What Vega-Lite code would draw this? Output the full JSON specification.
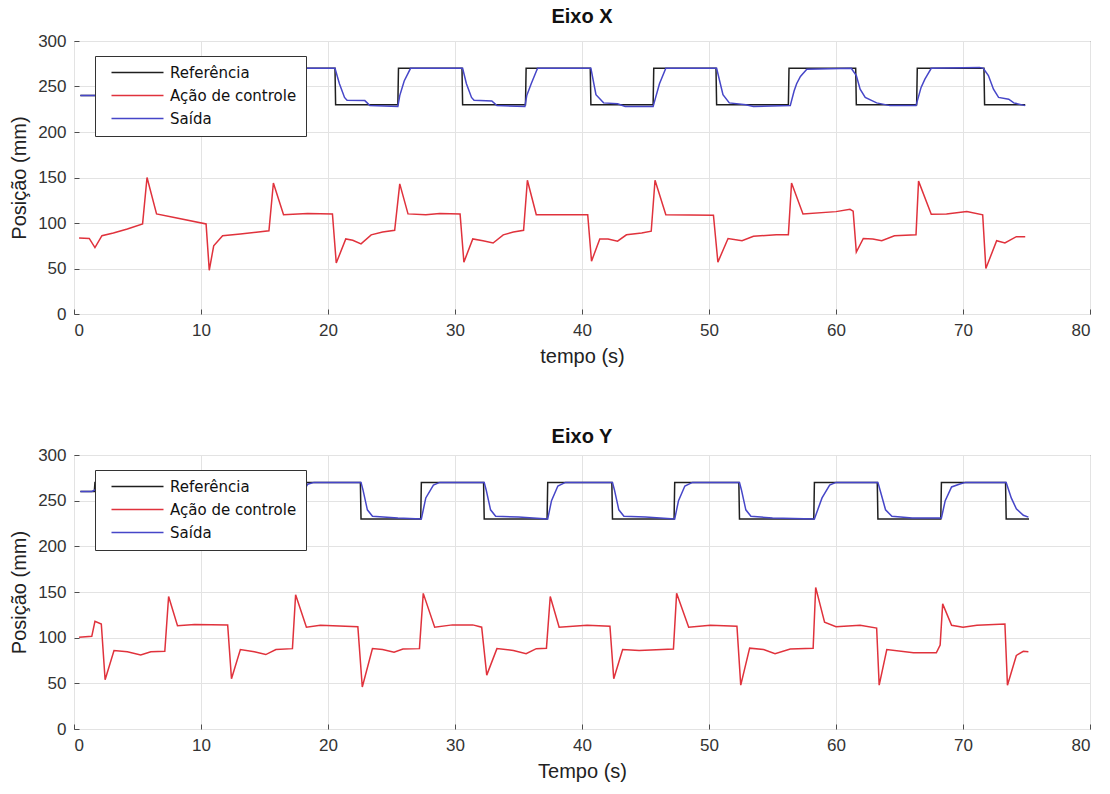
{
 "$schema": "https://vega.github.io/schema/vega-lite/v6.json",
 "padding": {"left": 9, "top": 6, "right": 4, "bottom": 2},
 "background": "white",
 "spacing": 59,
 "resolve": {"scale": {"color": "independent"}, "legend": {"color": "independent"}},
 "config": {
  "font": "Liberation Sans",
  "view": {"stroke": "#4d4d4d", "strokeWidth": 1},
  "axis": {"grid": true, "gridColor": "#e3e3e3", "domain": false, "ticks": true, "tickSize": -5, "tickColor": "#4d4d4d", "labelFontSize": 17, "labelColor": "#333333", "titleFontSize": 20, "titleFontWeight": "normal", "titleColor": "#222222", "labelPadding": 13, "titlePadding": 8},
  "title": {"fontSize": 20, "fontWeight": "bold", "color": "#111111", "offset": 5},
  "legend": {"orient": "none", "legendX": 21, "legendY": 15, "strokeColor": "#333333", "fillColor": "white", "padding": 9, "symbolType": "M0,0H10.4", "symbolSize": 100, "symbolStrokeWidth": 1.5, "labelFont": "DejaVu Sans", "labelFontSize": 15, "labelOffset": 51, "rowPadding": 7, "labelColor": "#111111"}
 },
 "datasets": {
  "ex": [
   {"s":"Referência","t":0.5,"v":240},{"s":"Referência","t":5.6,"v":240},{"s":"Referência","t":5.65,"v":270},{"s":"Referência","t":10.55,"v":270},{"s":"Referência","t":10.6,"v":230},{"s":"Referência","t":15.55,"v":230},{"s":"Referência","t":15.6,"v":270},{"s":"Referência","t":20.55,"v":270},{"s":"Referência","t":20.6,"v":230},{"s":"Referência","t":25.5,"v":230},{"s":"Referência","t":25.55,"v":270},{"s":"Referência","t":30.55,"v":270},{"s":"Referência","t":30.6,"v":230},{"s":"Referência","t":35.55,"v":230},{"s":"Referência","t":35.6,"v":270},{"s":"Referência","t":40.65,"v":270},{"s":"Referência","t":40.7,"v":230},{"s":"Referência","t":45.6,"v":230},{"s":"Referência","t":45.65,"v":270},{"s":"Referência","t":50.55,"v":270},{"s":"Referência","t":50.6,"v":230},{"s":"Referência","t":56.25,"v":230},{"s":"Referência","t":56.3,"v":270},{"s":"Referência","t":61.55,"v":270},{"s":"Referência","t":61.6,"v":230},{"s":"Referência","t":66.35,"v":230},{"s":"Referência","t":66.4,"v":270},{"s":"Referência","t":71.65,"v":270},{"s":"Referência","t":71.7,"v":230},{"s":"Referência","t":74.9,"v":230},
   {"s":"Ação de controle","t":0.4,"v":83.5},{"s":"Ação de controle","t":1.2,"v":83},{"s":"Ação de controle","t":1.65,"v":73},{"s":"Ação de controle","t":2.2,"v":86},{"s":"Ação de controle","t":3.1,"v":89},{"s":"Ação de controle","t":4.2,"v":93.5},{"s":"Ação de controle","t":5.4,"v":99},{"s":"Ação de controle","t":5.75,"v":150},{"s":"Ação de controle","t":6.5,"v":110},{"s":"Ação de controle","t":7.9,"v":106},{"s":"Ação de controle","t":10.4,"v":99},{"s":"Ação de controle","t":10.65,"v":48},{"s":"Ação de controle","t":11.0,"v":75},{"s":"Ação de controle","t":11.7,"v":86},{"s":"Ação de controle","t":13.1,"v":88},{"s":"Ação de controle","t":15.35,"v":91.5},{"s":"Ação de controle","t":15.7,"v":144},{"s":"Ação de controle","t":16.5,"v":109},{"s":"Ação de controle","t":18.4,"v":110.5},{"s":"Ação de controle","t":20.35,"v":110},{"s":"Ação de controle","t":20.65,"v":56},{"s":"Ação de controle","t":21.4,"v":82.5},{"s":"Ação de controle","t":21.95,"v":81},{"s":"Ação de controle","t":22.6,"v":77},{"s":"Ação de controle","t":23.4,"v":87},{"s":"Ação de controle","t":24.3,"v":90},{"s":"Ação de controle","t":25.25,"v":92},{"s":"Ação de controle","t":25.65,"v":143},{"s":"Ação de controle","t":26.3,"v":110},{"s":"Ação de controle","t":27.7,"v":109},{"s":"Ação de controle","t":28.8,"v":110.5},{"s":"Ação de controle","t":30.4,"v":110},{"s":"Ação de controle","t":30.7,"v":57},{"s":"Ação de controle","t":31.4,"v":82.5},{"s":"Ação de controle","t":32.2,"v":80.5},{"s":"Ação de controle","t":33.0,"v":78},{"s":"Ação de controle","t":33.8,"v":87},{"s":"Ação de controle","t":34.6,"v":90},{"s":"Ação de controle","t":35.4,"v":92},{"s":"Ação de controle","t":35.7,"v":147},{"s":"Ação de controle","t":36.4,"v":109},{"s":"Ação de controle","t":40.45,"v":109},{"s":"Ação de controle","t":40.75,"v":58},{"s":"Ação de controle","t":41.4,"v":82.5},{"s":"Ação de controle","t":42.05,"v":82.5},{"s":"Ação de controle","t":42.8,"v":80},{"s":"Ação de controle","t":43.5,"v":87},{"s":"Ação de controle","t":44.7,"v":89},{"s":"Ação de controle","t":45.45,"v":91},{"s":"Ação de controle","t":45.75,"v":147},{"s":"Ação de controle","t":46.6,"v":109},{"s":"Ação de controle","t":50.35,"v":108.5},{"s":"Ação de controle","t":50.7,"v":57},{"s":"Ação de controle","t":51.5,"v":83},{"s":"Ação de controle","t":52.6,"v":80.5},{"s":"Ação de controle","t":53.5,"v":85.5},{"s":"Ação de controle","t":55.3,"v":87},{"s":"Ação de controle","t":56.25,"v":87},{"s":"Ação de controle","t":56.5,"v":144},{"s":"Ação de controle","t":57.4,"v":110},{"s":"Ação de controle","t":60.0,"v":112.5},{"s":"Ação de controle","t":61.1,"v":115},{"s":"Ação de controle","t":61.35,"v":113},{"s":"Ação de controle","t":61.6,"v":68},{"s":"Ação de controle","t":62.15,"v":83},{"s":"Ação de controle","t":62.9,"v":82.5},{"s":"Ação de controle","t":63.6,"v":80.5},{"s":"Ação de controle","t":64.6,"v":86},{"s":"Ação de controle","t":66.3,"v":87},{"s":"Ação de controle","t":66.5,"v":146},{"s":"Ação de controle","t":67.5,"v":109.5},{"s":"Ação de controle","t":68.7,"v":110},{"s":"Ação de controle","t":70.3,"v":112.5},{"s":"Ação de controle","t":71.55,"v":109},{"s":"Ação de controle","t":71.8,"v":50},{"s":"Ação de controle","t":72.65,"v":80.5},{"s":"Ação de controle","t":73.3,"v":78},{"s":"Ação de controle","t":74.2,"v":85},{"s":"Ação de controle","t":74.9,"v":85},
   {"s":"Saída","t":0.5,"v":240},{"s":"Saída","t":1.6,"v":240},{"s":"Saída","t":5.65,"v":240},{"s":"Saída","t":6.0,"v":255},{"s":"Saída","t":6.6,"v":270},{"s":"Saída","t":10.6,"v":270},{"s":"Saída","t":11.0,"v":250},{"s":"Saída","t":11.5,"v":236},{"s":"Saída","t":15.6,"v":230},{"s":"Saída","t":16.0,"v":250},{"s":"Saída","t":16.6,"v":270},{"s":"Saída","t":20.55,"v":270},{"s":"Saída","t":20.9,"v":253},{"s":"Saída","t":21.3,"v":238},{"s":"Saída","t":21.5,"v":235},{"s":"Saída","t":22.9,"v":234.5},{"s":"Saída","t":23.3,"v":229},{"s":"Saída","t":25.5,"v":228},{"s":"Saída","t":25.65,"v":240},{"s":"Saída","t":26.0,"v":256},{"s":"Saída","t":26.5,"v":270},{"s":"Saída","t":30.6,"v":270},{"s":"Saída","t":30.9,"v":253},{"s":"Saída","t":31.3,"v":238},{"s":"Saída","t":31.5,"v":235},{"s":"Saída","t":32.9,"v":234},{"s":"Saída","t":33.3,"v":229},{"s":"Saída","t":35.5,"v":228},{"s":"Saída","t":35.65,"v":240},{"s":"Saída","t":36.0,"v":253},{"s":"Saída","t":36.5,"v":270},{"s":"Saída","t":40.7,"v":270},{"s":"Saída","t":41.1,"v":241},{"s":"Saída","t":41.7,"v":232},{"s":"Saída","t":42.8,"v":231},{"s":"Saída","t":43.4,"v":228},{"s":"Saída","t":45.6,"v":228},{"s":"Saída","t":45.8,"v":238},{"s":"Saída","t":46.1,"v":253},{"s":"Saída","t":46.6,"v":270},{"s":"Saída","t":50.6,"v":270},{"s":"Saída","t":51.1,"v":241},{"s":"Saída","t":51.6,"v":232},{"s":"Saída","t":52.9,"v":230},{"s":"Saída","t":53.5,"v":228},{"s":"Saída","t":56.4,"v":229},{"s":"Saída","t":56.7,"v":245},{"s":"Saída","t":56.9,"v":253},{"s":"Saída","t":57.2,"v":261},{"s":"Saída","t":57.7,"v":269},{"s":"Saída","t":61.2,"v":270},{"s":"Saída","t":61.6,"v":262},{"s":"Saída","t":61.9,"v":247},{"s":"Saída","t":62.3,"v":238},{"s":"Saída","t":63.2,"v":232},{"s":"Saída","t":64.25,"v":229},{"s":"Saída","t":66.3,"v":229},{"s":"Saída","t":66.7,"v":249},{"s":"Saída","t":67.0,"v":258},{"s":"Saída","t":67.5,"v":270},{"s":"Saída","t":71.3,"v":271},{"s":"Saída","t":71.6,"v":270},{"s":"Saída","t":72.0,"v":262},{"s":"Saída","t":72.4,"v":247},{"s":"Saída","t":72.8,"v":238},{"s":"Saída","t":73.6,"v":236},{"s":"Saída","t":74.0,"v":232},{"s":"Saída","t":74.9,"v":229}
  ],
  "ey": [
   {"s":"Referência","t":0.5,"v":260},{"s":"Referência","t":1.6,"v":260},{"s":"Referência","t":1.65,"v":270},{"s":"Referência","t":2.4,"v":270},{"s":"Referência","t":2.45,"v":230},{"s":"Referência","t":7.35,"v":230},{"s":"Referência","t":7.4,"v":270},{"s":"Referência","t":12.35,"v":270},{"s":"Referência","t":12.4,"v":230},{"s":"Referência","t":17.35,"v":230},{"s":"Referência","t":17.4,"v":270},{"s":"Referência","t":22.55,"v":270},{"s":"Referência","t":22.6,"v":230},{"s":"Referência","t":27.3,"v":230},{"s":"Referência","t":27.35,"v":270},{"s":"Referência","t":32.25,"v":270},{"s":"Referência","t":32.3,"v":230},{"s":"Referência","t":37.25,"v":230},{"s":"Referência","t":37.3,"v":270},{"s":"Referência","t":42.35,"v":270},{"s":"Referência","t":42.4,"v":230},{"s":"Referência","t":47.25,"v":230},{"s":"Referência","t":47.3,"v":270},{"s":"Referência","t":52.35,"v":270},{"s":"Referência","t":52.4,"v":230},{"s":"Referência","t":58.25,"v":230},{"s":"Referência","t":58.3,"v":270},{"s":"Referência","t":63.25,"v":270},{"s":"Referência","t":63.3,"v":230},{"s":"Referência","t":68.25,"v":230},{"s":"Referência","t":68.3,"v":270},{"s":"Referência","t":73.35,"v":270},{"s":"Referência","t":73.4,"v":230},{"s":"Referência","t":75.2,"v":230},
   {"s":"Ação de controle","t":0.4,"v":100.5},{"s":"Ação de controle","t":1.4,"v":101.5},{"s":"Ação de controle","t":1.65,"v":118},{"s":"Ação de controle","t":2.15,"v":115},{"s":"Ação de controle","t":2.45,"v":54},{"s":"Ação de controle","t":3.15,"v":86},{"s":"Ação de controle","t":4.2,"v":84.5},{"s":"Ação de controle","t":5.25,"v":81},{"s":"Ação de controle","t":6.05,"v":84.5},{"s":"Ação de controle","t":7.15,"v":85},{"s":"Ação de controle","t":7.45,"v":145},{"s":"Ação de controle","t":8.15,"v":113},{"s":"Ação de controle","t":9.5,"v":114.5},{"s":"Ação de controle","t":12.1,"v":114},{"s":"Ação de controle","t":12.4,"v":55},{"s":"Ação de controle","t":13.1,"v":87},{"s":"Ação de controle","t":14.2,"v":84.5},{"s":"Ação de controle","t":15.1,"v":81.5},{"s":"Ação de controle","t":15.9,"v":87},{"s":"Ação de controle","t":17.2,"v":88},{"s":"Ação de controle","t":17.45,"v":147},{"s":"Ação de controle","t":18.3,"v":111.5},{"s":"Ação de controle","t":19.4,"v":113.5},{"s":"Ação de controle","t":22.35,"v":112},{"s":"Ação de controle","t":22.7,"v":46},{"s":"Ação de controle","t":23.5,"v":88},{"s":"Ação de controle","t":24.3,"v":87},{"s":"Ação de controle","t":25.2,"v":84},{"s":"Ação de controle","t":25.9,"v":87.5},{"s":"Ação de controle","t":27.2,"v":88},{"s":"Ação de controle","t":27.5,"v":148.5},{"s":"Ação de controle","t":28.4,"v":111.5},{"s":"Ação de controle","t":29.8,"v":114},{"s":"Ação de controle","t":31.4,"v":114},{"s":"Ação de controle","t":32.1,"v":111.5},{"s":"Ação de controle","t":32.5,"v":59},{"s":"Ação de controle","t":33.3,"v":88},{"s":"Ação de controle","t":34.6,"v":86},{"s":"Ação de controle","t":35.6,"v":82.5},{"s":"Ação de controle","t":36.4,"v":88},{"s":"Ação de controle","t":37.2,"v":88.5},{"s":"Ação de controle","t":37.5,"v":145},{"s":"Ação de controle","t":38.2,"v":111.5},{"s":"Ação de controle","t":40.4,"v":113.5},{"s":"Ação de controle","t":42.2,"v":112.5},{"s":"Ação de controle","t":42.5,"v":55},{"s":"Ação de controle","t":43.2,"v":87},{"s":"Ação de controle","t":44.5,"v":86},{"s":"Ação de controle","t":47.2,"v":87.5},{"s":"Ação de controle","t":47.45,"v":148.5},{"s":"Ação de controle","t":48.4,"v":111.5},{"s":"Ação de controle","t":50.1,"v":113.5},{"s":"Ação de controle","t":52.2,"v":112.5},{"s":"Ação de controle","t":52.5,"v":48},{"s":"Ação de controle","t":53.2,"v":88.5},{"s":"Ação de controle","t":54.3,"v":87},{"s":"Ação de controle","t":55.2,"v":82.5},{"s":"Ação de controle","t":56.4,"v":87.5},{"s":"Ação de controle","t":58.2,"v":88.5},{"s":"Ação de controle","t":58.4,"v":155},{"s":"Ação de controle","t":59.1,"v":117},{"s":"Ação de controle","t":60.0,"v":112},{"s":"Ação de controle","t":61.9,"v":113.5},{"s":"Ação de controle","t":63.2,"v":110.5},{"s":"Ação de controle","t":63.4,"v":48},{"s":"Ação de controle","t":64.0,"v":87},{"s":"Ação de controle","t":66.1,"v":83.5},{"s":"Ação de controle","t":67.9,"v":83.5},{"s":"Ação de controle","t":68.2,"v":92},{"s":"Ação de controle","t":68.4,"v":137},{"s":"Ação de controle","t":69.1,"v":113.5},{"s":"Ação de controle","t":70.0,"v":111.5},{"s":"Ação de controle","t":71.1,"v":113.5},{"s":"Ação de controle","t":73.3,"v":115},{"s":"Ação de controle","t":73.5,"v":48},{"s":"Ação de controle","t":74.2,"v":80.5},{"s":"Ação de controle","t":74.75,"v":85},{"s":"Ação de controle","t":75.15,"v":84.5},
   {"s":"Saída","t":0.5,"v":260},{"s":"Saída","t":1.4,"v":260},{"s":"Saída","t":1.7,"v":262},{"s":"Saída","t":2.4,"v":268},{"s":"Saída","t":2.8,"v":250},{"s":"Saída","t":3.3,"v":233},{"s":"Saída","t":7.4,"v":230},{"s":"Saída","t":7.8,"v":253},{"s":"Saída","t":8.4,"v":268},{"s":"Saída","t":8.9,"v":270},{"s":"Saída","t":12.4,"v":270},{"s":"Saída","t":12.9,"v":240},{"s":"Saída","t":13.3,"v":233},{"s":"Saída","t":17.4,"v":230},{"s":"Saída","t":17.8,"v":253},{"s":"Saída","t":18.4,"v":268},{"s":"Saída","t":18.9,"v":270},{"s":"Saída","t":22.6,"v":270},{"s":"Saída","t":22.75,"v":262},{"s":"Saída","t":23.1,"v":240},{"s":"Saída","t":23.5,"v":233},{"s":"Saída","t":25.5,"v":231},{"s":"Saída","t":27.35,"v":230},{"s":"Saída","t":27.7,"v":253},{"s":"Saída","t":28.3,"v":267},{"s":"Saída","t":28.8,"v":270},{"s":"Saída","t":32.3,"v":270},{"s":"Saída","t":32.45,"v":262},{"s":"Saída","t":32.8,"v":240},{"s":"Saída","t":33.2,"v":233},{"s":"Saída","t":35.0,"v":232},{"s":"Saída","t":37.3,"v":230},{"s":"Saída","t":37.6,"v":250},{"s":"Saída","t":38.1,"v":266},{"s":"Saída","t":38.7,"v":270},{"s":"Saída","t":42.4,"v":270},{"s":"Saída","t":42.55,"v":262},{"s":"Saída","t":42.9,"v":240},{"s":"Saída","t":43.3,"v":233},{"s":"Saída","t":45.0,"v":232},{"s":"Saída","t":47.3,"v":230},{"s":"Saída","t":47.6,"v":250},{"s":"Saída","t":48.1,"v":266},{"s":"Saída","t":48.7,"v":270},{"s":"Saída","t":52.4,"v":270},{"s":"Saída","t":52.55,"v":262},{"s":"Saída","t":52.9,"v":240},{"s":"Saída","t":53.3,"v":233},{"s":"Saída","t":55.0,"v":231},{"s":"Saída","t":58.3,"v":230},{"s":"Saída","t":58.9,"v":253},{"s":"Saída","t":59.5,"v":267},{"s":"Saída","t":60.0,"v":270},{"s":"Saída","t":63.3,"v":270},{"s":"Saída","t":63.5,"v":260},{"s":"Saída","t":63.9,"v":240},{"s":"Saída","t":64.4,"v":233},{"s":"Saída","t":66.0,"v":231},{"s":"Saída","t":68.3,"v":231},{"s":"Saída","t":68.6,"v":250},{"s":"Saída","t":69.1,"v":265},{"s":"Saída","t":69.7,"v":268},{"s":"Saída","t":70.2,"v":270},{"s":"Saída","t":73.4,"v":270},{"s":"Saída","t":73.8,"v":253},{"s":"Saída","t":74.2,"v":241},{"s":"Saída","t":74.75,"v":234},{"s":"Saída","t":75.15,"v":232}
  ]
 },
 "vconcat": [
  {
   "title": "Eixo X",
   "width": 1016,
   "height": 273,
   "data": {"name": "ex"},
   "mark": {"type": "line", "strokeWidth": 1.5},
   "encoding": {
    "x": {"field": "t", "type": "quantitative", "scale": {"domain": [0, 80], "nice": false}, "axis": {"title": "tempo (s)", "values": [0, 10, 20, 30, 40, 50, 60, 70, 80]}},
    "y": {"field": "v", "type": "quantitative", "scale": {"domain": [0, 300]}, "axis": {"title": "Posição (mm)", "values": [0, 50, 100, 150, 200, 250, 300]}},
    "color": {"field": "s", "type": "nominal", "scale": {"domain": ["Referência", "Ação de controle", "Saída"], "range": ["#1f1f1f", "#e0323c", "#4646c8"]}, "legend": {"title": null}}
   }
  },
  {
   "title": {"text": "Eixo Y", "offset": -1},
   "width": 1016,
   "height": 274,
   "data": {"name": "ey"},
   "mark": {"type": "line", "strokeWidth": 1.5},
   "encoding": {
    "x": {"field": "t", "type": "quantitative", "scale": {"domain": [0, 80], "nice": false}, "axis": {"title": "Tempo (s)", "values": [0, 10, 20, 30, 40, 50, 60, 70, 80]}},
    "y": {"field": "v", "type": "quantitative", "scale": {"domain": [0, 300]}, "axis": {"title": "Posição (mm)", "values": [0, 50, 100, 150, 200, 250, 300]}},
    "color": {"field": "s", "type": "nominal", "scale": {"domain": ["Referência", "Ação de controle", "Saída"], "range": ["#1f1f1f", "#e0323c", "#4646c8"]}, "legend": {"title": null}}
   }
  }
 ]
}
